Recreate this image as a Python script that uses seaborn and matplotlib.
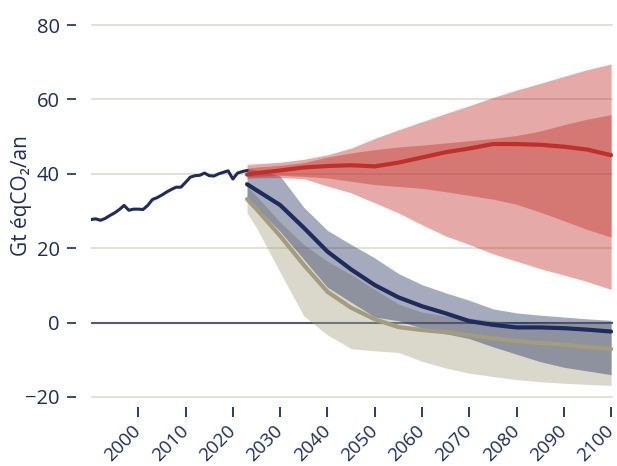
"""
plot.py
Recreates the emissions pathways chart (Gt eqCO2 per year, 1990-2100).
"""

import matplotlib
matplotlib.use("Agg")
import matplotlib.pyplot as plt
import seaborn as sns

# Historical emissions, 1990-2023
hist_years = list(range(1990, 2024))
hist_values = [27.7, 27.9, 27.5, 28.0, 28.8, 29.5, 30.4, 31.5, 30.2, 30.5,
               30.5, 30.4, 31.5, 33.1, 33.6, 34.3, 35.1, 35.8, 36.4, 36.4,
               37.7, 39.1, 39.5, 39.6, 40.2, 39.5, 39.4, 40.0, 40.4, 40.8,
               38.6, 40.2, 40.6, 40.9]

# Projections
proj_years = [2023, 2025, 2030, 2035, 2040, 2045, 2050, 2055, 2060,
              2065, 2070, 2075, 2080, 2085, 2090, 2095, 2100]

red_mid = [39.8, 40.2, 40.9, 41.7, 42.1, 42.3, 42.0, 43.0, 44.4,
           45.8, 46.8, 48.0, 48.0, 47.8, 47.3, 46.5, 45.0]
red_inner_hi = [41.5, 41.8, 42.3, 43.0, 44.5, 45.6, 46.5, 47.2, 47.7,
                48.3, 48.9, 49.5, 50.3, 51.5, 53.2, 54.7, 55.9]
red_inner_lo = [39.2, 39.3, 39.6, 39.3, 38.9, 38.0, 37.1, 36.6, 36.1,
                35.2, 34.2, 33.2, 31.8, 29.7, 27.4, 25.0, 23.0]
red_outer_hi = [42.5, 42.7, 43.1, 43.9, 45.1, 46.9, 49.5, 51.8, 54.0,
                56.2, 58.3, 60.5, 62.5, 64.3, 66.2, 68.0, 69.5]
red_outer_lo = [38.8, 38.9, 39.0, 38.7, 36.7, 34.9, 32.2, 29.5, 26.3,
                23.3, 21.0, 18.5, 16.5, 14.5, 12.8, 11.0, 8.9]

navy_mid = [37.2, 35.6, 31.6, 25.5, 19.1, 14.3, 10.1, 6.8, 4.4,
            2.5, 0.4, -0.6, -1.3, -1.3, -1.5, -1.9, -2.4]
navy_hi = [41.5, 41.0, 39.4, 31.0, 24.8, 21.0, 17.4, 13.2, 10.2,
           8.0, 6.0, 3.7, 2.6, 2.0, 1.5, 1.0, 0.6]
navy_lo = [33.5, 31.0, 24.5, 17.0, 9.5, 5.5, 1.5, 0.5, -1.5,
           -3.0, -4.3, -6.5, -8.5, -10.5, -12.0, -13.0, -14.0]

beige_mid = [33.2, 30.5, 23.3, 15.5, 8.3, 4.0, 0.9, -1.2, -2.0,
             -2.6, -3.4, -4.2, -4.9, -5.5, -5.9, -6.5, -7.1]
beige_hi = [36.5, 34.0, 27.0, 21.0, 16.5, 12.9, 8.9, 5.0, 2.8,
            1.8, 1.2, 0.5, -0.3, 0.0, 0.2, 0.2, 0.1]
beige_lo = [29.5, 25.5, 13.5, 1.8, -3.3, -7.0, -7.6, -8.0, -10.4,
            -12.2, -13.6, -14.5, -15.3, -15.9, -16.3, -16.6, -16.9]

y_ticks = [-20, 0, 20, 40, 60, 80]
x_ticks = list(range(2000, 2101, 10))

NAVY = "#1e2b5c"
RED = "#c0302a"
BEIGE = "#a39c7e"
GRID = "#dddbcf"

sns.set_style("white")
plt.rcParams["font.family"] = ["Open Sans", "DejaVu Sans"]

fig = plt.figure(figsize=(6.17, 4.66), dpi=100)
ax = fig.add_axes([0.1475, 0.1401, 0.8468, 0.8142])

# bands (alpha so overlaps darken like the original)
ax.fill_between(proj_years, beige_lo, beige_hi, color=BEIGE, alpha=0.4, lw=0, zorder=2)
ax.fill_between(proj_years, navy_lo, navy_hi, color=NAVY, alpha=0.4, lw=0, zorder=3)
ax.fill_between(proj_years, red_outer_lo, red_outer_hi, color=RED, alpha=0.41, lw=0, zorder=5)
ax.fill_between(proj_years, red_inner_lo, red_inner_hi, color=RED, alpha=0.41, lw=0, zorder=5)
sns.lineplot(x=proj_years, y=beige_mid, color=BEIGE, lw=3, ax=ax, zorder=4)
sns.lineplot(x=proj_years, y=navy_mid, color=NAVY, lw=3, ax=ax, zorder=6)
sns.lineplot(x=proj_years, y=red_mid, color=RED, lw=3, ax=ax, zorder=7)
sns.lineplot(x=hist_years, y=hist_values, color=NAVY, lw=2.2, ax=ax, zorder=7)

ax.axhline(0, color="#4f5a7a", lw=1.5, zorder=1.5)

ax.set_xlim(1990, 2100.5)
ax.set_ylim(-21, 81)
ax.set_yticks(y_ticks)
ax.set_xticks(x_ticks)
ax.yaxis.grid(True, color=GRID, lw=1.2)
ax.xaxis.grid(False)
ax.set_axisbelow(True)

for side in ["top", "right", "left", "bottom"]:
    ax.spines[side].set_visible(False)
ax.spines["left"].set_position(("outward", 11))
ax.spines["bottom"].set_position(("outward", 4.3))

ax.tick_params(axis="y", left=True, length=6.5, width=1.2, color=NAVY, pad=5,
               labelsize=14.5, labelcolor=NAVY, direction="out")
ax.tick_params(axis="x", bottom=True, length=7.2, width=1.3, color=NAVY, pad=8,
               labelsize=13.5, labelcolor=NAVY, direction="out")
for lbl in ax.get_xticklabels():
    lbl.set_rotation(45)
    lbl.set_ha("right")
    lbl.set_va("center")
    lbl.set_rotation_mode("anchor")

ax.set_xlabel("")
ax.set_ylabel("Gt éqCO₂/an", fontsize=15, color=NAVY)
ax.yaxis.set_label_coords(-0.113, 0.542)

fig.savefig("out.png", dpi=100)
plt.close(fig)
